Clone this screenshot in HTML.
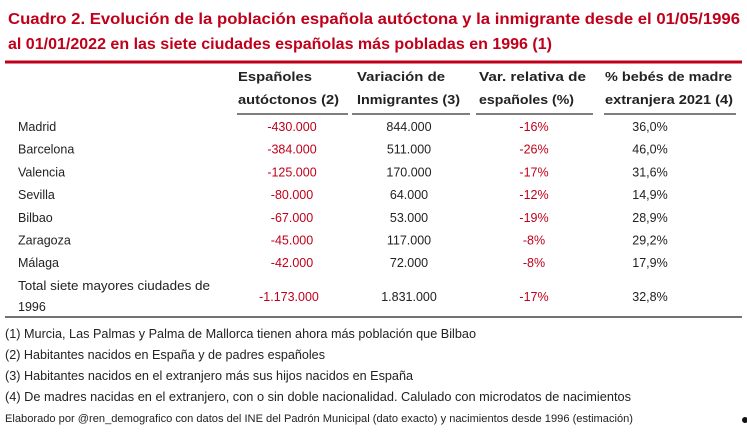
<!DOCTYPE html>
<html><head><meta charset="utf-8">
<style>
html,body{margin:0;padding:0;background:#fff;}
svg{display:block;font-family:"Liberation Sans",sans-serif;}
</style></head>
<body>
<svg id="s" width="747" height="441" viewBox="0 0 747 441">
<rect width="747" height="441" fill="#fff"/>
<g fill="#c0001a" font-weight="bold" font-size="16">
<text x="8" y="24" textLength="732" lengthAdjust="spacingAndGlyphs">Cuadro 2. Evolución de la población española autóctona y la inmigrante desde el 01/05/1996</text>
<text x="8" y="49" textLength="544" lengthAdjust="spacingAndGlyphs">al 01/01/2022 en las siete ciudades españolas más pobladas en 1996 (1)</text>
</g>
<line x1="5" y1="62" x2="742" y2="62" stroke="#c0001a" stroke-width="3"/>
<g fill="#222" font-weight="bold" font-size="13">
<text x="238" y="81" textLength="74" lengthAdjust="spacingAndGlyphs">Españoles</text>
<text x="238" y="104" textLength="101" lengthAdjust="spacingAndGlyphs">autóctonos (2)</text>
<text x="357" y="81" textLength="88" lengthAdjust="spacingAndGlyphs">Variación de</text>
<text x="357" y="104" textLength="103" lengthAdjust="spacingAndGlyphs">Inmigrantes (3)</text>
<text x="479" y="81" textLength="107" lengthAdjust="spacingAndGlyphs">Var. relativa de</text>
<text x="479" y="104" textLength="95" lengthAdjust="spacingAndGlyphs">españoles (%)</text>
<text x="605" y="81" textLength="127" lengthAdjust="spacingAndGlyphs">% bebés de madre</text>
<text x="605" y="104" textLength="128" lengthAdjust="spacingAndGlyphs">extranjera 2021 (4)</text>
</g>
<g stroke="#333" stroke-width="1.2">
<line x1="237" y1="114" x2="348" y2="114"/><line x1="352" y1="114" x2="470" y2="114"/>
<line x1="476" y1="114" x2="593" y2="114"/><line x1="604" y1="114" x2="736" y2="114"/>
</g>
<g id="rows" font-size="12.5"></g>
<line x1="5" y1="317" x2="742" y2="317" stroke="#444" stroke-width="1.5"/>
<g fill="#222" font-size="12.5">
<text x="5" y="338" textLength="471" lengthAdjust="spacingAndGlyphs">(1) Murcia, Las Palmas y Palma de Mallorca tienen ahora más población que Bilbao</text>
<text x="5" y="359" textLength="320" lengthAdjust="spacingAndGlyphs">(2) Habitantes nacidos en España y de padres españoles</text>
<text x="5" y="380" textLength="408" lengthAdjust="spacingAndGlyphs">(3) Habitantes nacidos en el extranjero más sus hijos nacidos en España</text>
<text x="5" y="401" textLength="626" lengthAdjust="spacingAndGlyphs">(4) De madres nacidas en el extranjero, con o sin doble nacionalidad. Calulado con microdatos de nacimientos</text>
</g>
<text x="5" y="422" font-size="11" fill="#222" textLength="628" lengthAdjust="spacingAndGlyphs">Elaborado por @ren_demografico con datos del INE del Padrón Municipal (dato exacto) y nacimientos desde 1996 (estimación)</text>
<circle cx="745" cy="420" r="3" fill="#111"/>
</svg>
<script>
const cities = ["Madrid","Barcelona","Valencia","Sevilla","Bilbao","Zaragoza","Málaga"];
const natives = ["-430.000","-384.000","-125.000","-80.000","-67.000","-45.000","-42.000"];
const immigrants = ["844.000","511.000","170.000","64.000","53.000","117.000","72.000"];
const relVar = ["-16%","-26%","-17%","-12%","-19%","-8%","-8%"];
const foreignBirths = ["36,0%","46,0%","31,6%","14,9%","28,9%","29,2%","17,9%"];
const totalRow = ["-1.173.000","1.831.000","-17%","32,8%"];

const NS = "http://www.w3.org/2000/svg";
const g = document.getElementById("rows");
const colX = [292, 409, 534, 650];
const colColor = ["#c0001a", "#222", "#c0001a", "#222"];
function txt(x, y, s, fill, anchor, name) {
  const t = document.createElementNS(NS, "text");
  t.setAttribute("x", x); t.setAttribute("y", y);
  t.setAttribute("fill", fill);
  t.setAttribute("text-anchor", anchor);
  t.textContent = s;
  
  
  g.appendChild(t);
  return t;
}
const rowY = i => 131 + i * 22.7;
cities.forEach((c, i) => {
  const y = rowY(i);
  txt(18, y, c, "#222", "start", "city-label");
  const vals = [natives[i], immigrants[i], relVar[i], foreignBirths[i]];
  vals.forEach((v, j) => txt(colX[j], y, v, colColor[j], "middle", "table-cell"));
});
const t1 = txt(18, 290, "Total siete mayores ciudades de", "#222", "start", "total-label");
t1.setAttribute("textLength", "192"); t1.setAttribute("lengthAdjust", "spacingAndGlyphs");
txt(18, 311, "1996", "#222", "start", "total-label-year");
totalRow.forEach((v, j) => txt(colX[j] - (j === 0 ? 3 : 0), 301, v, colColor[j], "middle", "total-cell"));
</script>
</body></html>
